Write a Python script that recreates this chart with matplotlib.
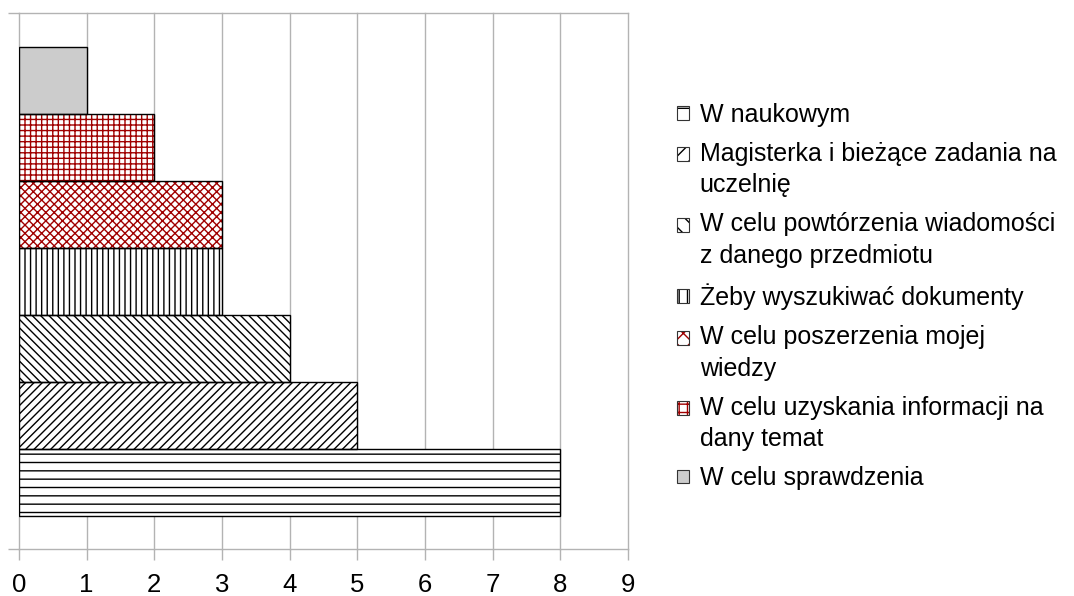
import matplotlib
matplotlib.use('Agg')
import matplotlib.pyplot as plt
import matplotlib.patches as mpatches
from matplotlib.legend_handler import HandlerBase

plt.rcParams['font.family'] = ['Liberation Sans', 'DejaVu Sans']
plt.rcParams['hatch.linewidth'] = 1.0

# Data (bottom bar first)
labels = ['W naukowym',
          'Magisterka i bieżące zadania na\nuczelnię',
          'W celu powtórzenia wiadomości\nz danego przedmiotu',
          'Żeby wyszukiwać dokumenty',
          'W celu poszerzenia mojej\nwiedzy',
          'W celu uzyskania informacji na\ndany temat',
          'W celu sprawdzenia']
values = [8, 5, 4, 3, 3, 2, 1]
x_ticks = [0, 1, 2, 3, 4, 5, 6, 7, 8, 9]

# Styles
hatches = ['--', '////', '\\\\\\\\', '|||', 'xxxx', '+++', '']
legend_hatches = ['-', '//', '\\\\', '||', 'xx', '++', '']
hatch_colors = ['black', 'black', 'black', 'black', '#a00000', '#a00000', 'black']
face_colors = ['white', 'white', 'white', 'white', 'white', 'white', '#cccccc']
grid_color = '#b3b3b3'
line_pitch_pt = 22.6  # distance between wrapped legend lines, points


class SquareHandler(HandlerBase):
    # legend square aligned with the first line of a wrapped label
    def __init__(self, face, hatch, hcolor, shift):
        super().__init__()
        self.face, self.hatch, self.hcolor, self.shift = face, hatch, hcolor, shift

    def legend_artist(self, legend, orig_handle, fontsize, handlebox):
        x0, y0 = handlebox.xdescent, handlebox.ydescent
        w, h = handlebox.width, handlebox.height
        tr = handlebox.get_transform()
        r1 = mpatches.Rectangle((-x0, -y0 + self.shift), w, h, facecolor=self.face,
                                hatch=self.hatch, edgecolor=self.hcolor, linewidth=0,
                                transform=tr)
        r2 = mpatches.Rectangle((-x0, -y0 + self.shift), w, h, fill=False,
                                edgecolor='#333333', linewidth=0.8, transform=tr)
        handlebox.add_artist(r1)
        handlebox.add_artist(r2)
        return r1


fig = plt.figure(figsize=(10.74, 5.96), dpi=100)
ax = fig.add_axes([19 / 1074, 1 - 549 / 596, (628 - 19) / 1074, (549 - 13) / 596])

handles = []
handler_map = {}
for i, v in enumerate(values):
    ax.barh(i, v, height=1.0, color=face_colors[i], hatch=hatches[i],
            edgecolor=hatch_colors[i], linewidth=0, zorder=2)
    ax.barh(i, v, height=1.0, fill=False, edgecolor='black', linewidth=1, zorder=3)
    h = mpatches.Patch()
    handles.append(h)
    nlines = labels[i].count('\n') + 1
    handler_map[h] = SquareHandler(face_colors[i], legend_hatches[i], hatch_colors[i],
                                   (nlines - 1) * line_pitch_pt / 2)

ax.set_xlim(0, 9)
ax.set_ylim(-1, len(values))
ax.set_xticks(x_ticks)
ax.set_yticks([-1, len(values)])
ax.set_yticklabels([])
for s in ax.spines.values():
    s.set_visible(False)
ax.grid(True, color=grid_color, linewidth=1, zorder=0)
ax.set_axisbelow(True)
for gl in ax.get_xgridlines() + ax.get_ygridlines():
    gl.set_clip_on(False)
ax.tick_params(axis='x', length=8, color=grid_color, width=1, labelsize=18.5, pad=9.5)
ax.tick_params(axis='y', length=8, color=grid_color, width=1)

leg = fig.legend(handles, labels, handler_map=handler_map,
                 loc='upper left', bbox_to_anchor=(0.630, 0.828), frameon=False,
                 fontsize=18, handlelength=0.48, handleheight=0.48,
                 handletextpad=0.45, labelspacing=0.6, borderpad=0, borderaxespad=0)
for t in leg.get_texts():
    t.set_linespacing(1.41)

fig.savefig('out.png', dpi=100)
